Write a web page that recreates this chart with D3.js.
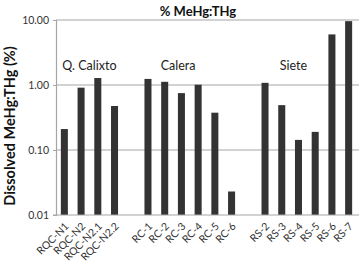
<!DOCTYPE html>
<html><head><meta charset="utf-8">
<script src="https://cdn.jsdelivr.net/npm/d3@7"></script>
<style>body{margin:0;background:#fff}svg{display:block}text{font-family:Lato,"Open Sans",sans-serif}</style>
</head><body><svg id="c" width="359" height="274"></svg>
<script>
const categories = ["RQC-N1","RQC-N2","RQC-N2.1","RQC-N2.2","","RC-1","RC-2","RC-3","RC-4","RC-5","RC-6","","RS-2","RS-3","RS-4","RS-5","RS-6","RS-7"];
const values = [0.21,0.91,1.28,0.475,null,1.24,1.12,0.75,1.01,0.375,0.023,null,1.08,0.49,0.143,0.19,6.0,9.6];
const tickValues = [0.01,0.1,1,10];
const tickLabels = ["0.01","0.10","1.00","10.00"];
const groupLabels = ["Q. Calixto","Calera","Siete"];
const groupAt = [1.5,6.8,13.7];

const svg = d3.select("#c");
const m = {l:56,r:2,t:20,b:59};
const W = 359, H = 274;
const x = d3.scaleBand().domain(d3.range(categories.length)).range([m.l, W-m.r]).paddingInner(0.58).paddingOuter(0.29);
const y = d3.scaleLog().domain([0.01,10]).range([H-m.b, m.t]);

// gridlines
svg.append("g").selectAll("line").data(tickValues.slice(1)).join("line")
  .attr("x1", m.l).attr("x2", W).attr("y1", d=>y(d)).attr("y2", d=>y(d))
  .attr("stroke","#a6a6a6").attr("stroke-width",1.2);

// bars
svg.append("g").selectAll("rect").data(values.map((v,i)=>({v,i})).filter(d=>d.v!=null)).join("rect")
  .attr("x", d=>x(d.i)).attr("width", x.bandwidth())
  .attr("y", d=>y(d.v)).attr("height", d=>y(0.01)-y(d.v))
  .attr("fill","#333333");

// y axis
const ya = svg.append("g").attr("transform",`translate(${m.l},0)`)
  .call(d3.axisLeft(y).tickValues(tickValues).tickFormat((d,i)=>tickLabels[i]).tickSize(3).tickPadding(4));
ya.select(".domain").attr("stroke","#a6a6a6").attr("stroke-width",1.2);
ya.selectAll(".tick line").attr("stroke","#a6a6a6");
ya.selectAll("text").attr("font-size",10.5).attr("fill","#333");

// bottom line
svg.append("line").attr("x1",m.l-3).attr("x2",W).attr("y1",y(0.01)).attr("y2",y(0.01)).attr("stroke","#a6a6a6").attr("stroke-width",1.2);

// x labels
svg.append("g").selectAll("text").data(categories.map((c,i)=>({c,i})).filter(d=>d.c)).join("text")
  .attr("transform", d=>`translate(${x(d.i)+x.bandwidth()/2+5},${y(0.01)+12}) rotate(-45)`)
  .attr("text-anchor","end").attr("font-size",10.5).attr("fill","#333").text(d=>d.c);

// group labels
svg.append("g").selectAll("text").data(groupLabels).join("text")
  .attr("x",(d,i)=>x(0)+ (x(1)-x(0))*groupAt[i] + x.bandwidth()/2)
  .attr("y",70).attr("text-anchor","middle").attr("font-size",12.5).attr("fill","#222").text(d=>d);

// title
svg.append("text").attr("x",198).attr("y",16).attr("text-anchor","middle").attr("font-size",13).attr("font-weight","bold").attr("fill","#111").text("% MeHg:THg");

// y title
svg.append("text").attr("transform",`translate(15,126) rotate(-90)`).attr("text-anchor","middle")
  .attr("font-size",14.5).attr("font-weight","bold").attr("fill","#111").text("Dissolved MeHg:THg (%)");
</script></body></html>
